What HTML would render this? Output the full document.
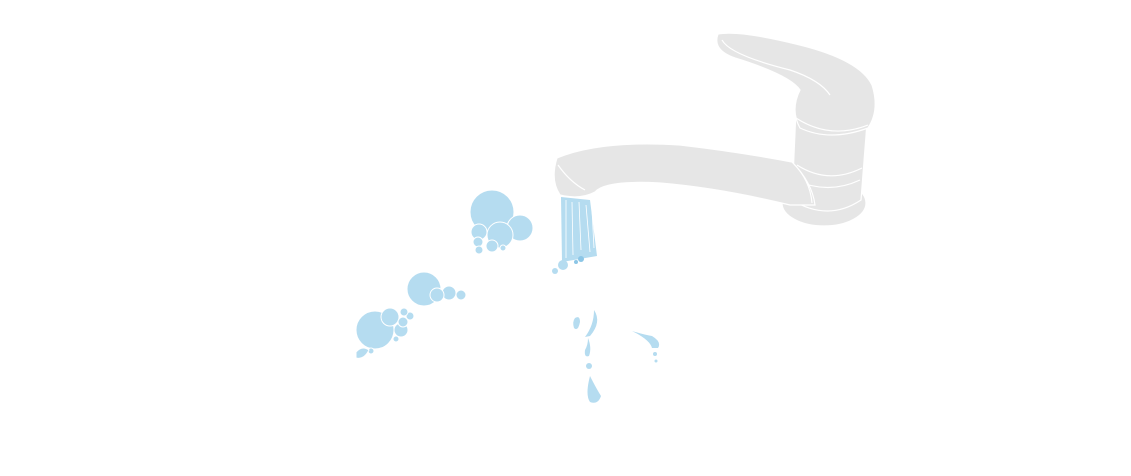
<!DOCTYPE html>
<html><head><style>html,body{margin:0;padding:0;background:#fff;width:1131px;height:476px;overflow:hidden}</style></head>
<body>
<svg width="1131" height="476" viewBox="0 0 1131 476" xmlns="http://www.w3.org/2000/svg">
<g fill="#e6e6e6" stroke="#fff" stroke-width="1.2">
  <ellipse cx="824" cy="203" rx="42" ry="23"/>
  <path d="M796 110 L868 110 L861 200 Q828 222 792 200 Z"/>
  <path d="M797 165 Q828 185 862 168" fill="none"/>
  <path d="M795 180 Q828 195 860 180" fill="none"/>
  <path d="M718 34 Q740 30 800 45 Q860 60 872 85 Q880 110 868 128 Q830 142 800 128 Q790 110 800 90 Q790 75 735 58 Q712 50 718 34 Z"/>
  <path d="M796 118 Q830 140 868 125" fill="none"/>
  <path d="M722 40 Q730 55 790 70 Q820 80 830 95" fill="none"/>
  <path d="M557 158 Q600 140 680 145 Q740 152 792 162 Q812 182 815 205 L790 205 Q720 188 660 183 Q605 180 595 192 Q580 200 560 195 Q550 180 557 158 Z"/>
  <path d="M558 165 Q570 182 585 190" fill="none"/>
  <path d="M793 163 Q810 180 812 203" fill="none"/>
</g>
<g fill="#b5dcf0">
  <path d="M561 197 L590 200 L597 256 L562 262 Z"/>
  <circle cx="563" cy="265" r="5"/><circle cx="555" cy="271" r="3"/>
  <circle cx="576" cy="262" r="2" fill="#8cc6e6"/><circle cx="581" cy="259" r="3" fill="#8cc6e6"/>
</g>
<g stroke="#fff" stroke-width="0.8" fill="none">
  <path d="M566 200 L566 258"/><path d="M572 202 L573 255"/><path d="M579 202 L581 250"/><path d="M586 205 L590 252"/><path d="M592 210 L594 248"/>
</g>
<g fill="#b5dcf0" stroke="#fff" stroke-width="1">
  <circle cx="492" cy="212" r="22"/><circle cx="520" cy="228" r="13"/><circle cx="500" cy="235" r="13"/><circle cx="479" cy="232" r="8"/>
  <circle cx="478" cy="242" r="5"/><circle cx="479" cy="250" r="4"/><circle cx="492" cy="246" r="6"/><circle cx="503" cy="248" r="3"/>
  <circle cx="424" cy="289" r="17"/><circle cx="449" cy="293" r="7"/><circle cx="437" cy="295" r="7"/><circle cx="461" cy="295" r="5"/>
  <circle cx="410" cy="316" r="4"/><circle cx="404" cy="312" r="4"/>
  <circle cx="375" cy="330" r="19"/><circle cx="390" cy="317" r="9"/><circle cx="401" cy="330" r="7"/><circle cx="403" cy="322" r="5"/>
  <circle cx="396" cy="339" r="3"/><circle cx="371" cy="351" r="3"/>
  <path d="M356 352 Q362 345 369 350 Q364 360 356 358 Z"/>
</g>
<g fill="#b5dcf0">
  <path d="M575 318 Q580 315 580 322 Q578 332 574 328 Q572 322 575 318 Z"/>
  <path d="M594 310 Q602 322 590 336 L585 337 Q594 325 594 310 Z"/>
  <path d="M588 338 Q592 348 589 356 Q584 358 585 350 Q588 345 588 338 Z"/>
  <circle cx="589" cy="366" r="3"/>
  <path d="M590 376 Q596 388 601 396 Q598 405 590 402 Q585 395 590 376 Z"/>
  <path d="M632 331 Q645 335 652 336 Q662 342 658 348 L652 348 Q650 340 632 331 Z"/>
  <circle cx="655" cy="354" r="2"/><circle cx="656" cy="361" r="1.5"/>
</g>
</svg>
</body></html>
